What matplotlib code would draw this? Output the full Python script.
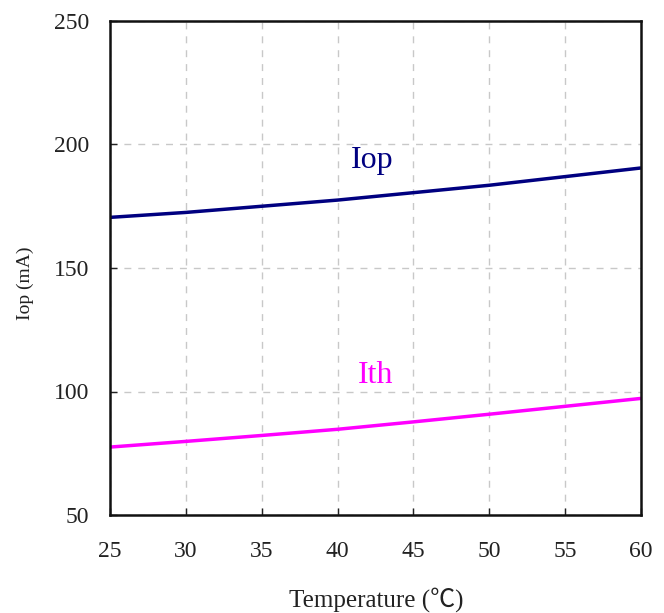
import matplotlib
matplotlib.use("Agg")
import matplotlib.pyplot as plt

temps = [25, 30, 35, 40, 45, 50, 55, 60]
iop = [170.5, 172.5, 175.0, 177.5, 180.5, 183.5, 187.0, 190.5]
ith = [77.5, 79.8, 82.2, 84.7, 87.7, 90.8, 94.0, 97.2]
xticks = [25, 30, 35, 40, 45, 50, 55, 60]
yticks = [50, 100, 150, 200, 250]

fam = ['Liberation Serif', 'Noto Sans CJK SC', 'DejaVu Sans']
plt.rcParams['font.family'] = fam

fig = plt.figure(figsize=(6.64, 6.13), dpi=100)
ax = fig.add_axes([110/664, 1 - 515/613, 531/664, 494/613])

ax.plot(temps, iop, color='#000080', lw=2.5, solid_capstyle='butt')
ax.plot(temps, ith, color='#ff00ff', lw=2.5, solid_capstyle='butt')

ax.text(42.3, 190.5, 'Iop', color='#000080', fontsize=23, ha='center', va='baseline')
ax.text(42.5, 103.4, 'Ith', color='#ff00ff', fontsize=23, ha='center', va='baseline')

ax.set_xlim(25, 60)
ax.set_ylim(50, 250)
ax.set_xticks(xticks)
ax.set_yticks(yticks)
ax.grid(True, color='#c8c8c8', linestyle=(0, (5, 5)), lw=1)
ax.tick_params(direction='in', length=5, width=1, labelsize=17, pad=15, colors='#222222')
ax.tick_params(axis='x', pad=19)
for s in ax.spines.values():
    s.set_linewidth(1.8)
    s.set_color('#111111')

ax.set_xlabel('Temperature (℃)', fontsize=18, color='#222222', va='center')
ax.xaxis.set_label_coords((376 - 110) / 531, (515 - 600) / 494)
ax.set_ylabel('Iop (mA)', fontsize=14, color='#222222', va='center')
ax.yaxis.set_label_coords((25 - 110) / 531, (515 - 283) / 494)

fig.savefig('out.png', dpi=100)
